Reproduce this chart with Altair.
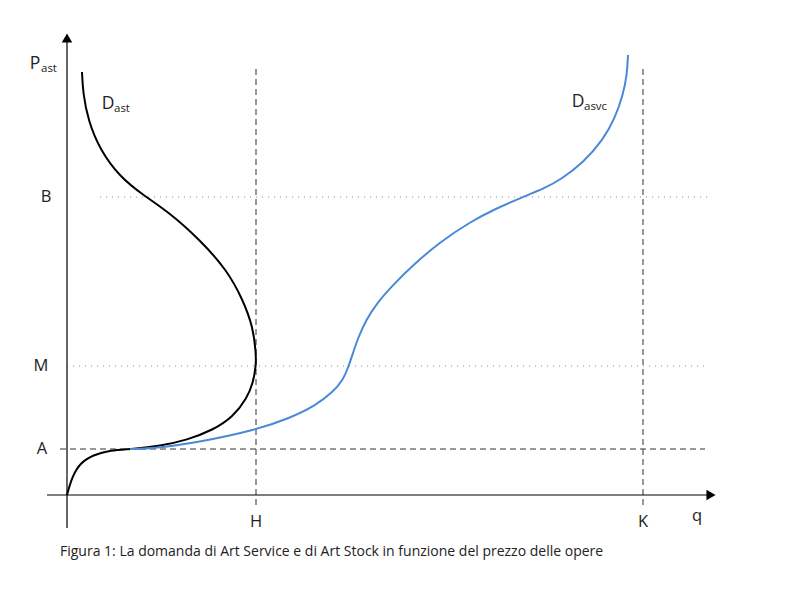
import altair as alt
import pandas as pd

# Curve points (q, P) in schematic units, origin at axes intersection
dast_q = [15, 16, 21, 33, 53, 76, 103, 133, 160, 176, 186, 189, 189, 186, 180, 166, 146, 120, 93, 66, 43, 26, 13, 5, 0]
dast_p = [423, 402, 375, 345, 318, 300, 282, 255, 225, 195, 168, 142, 129, 112, 97, 78, 65, 55, 49, 46, 45, 40, 32, 18, 0]

dasvc_q = [63, 83, 133, 189, 223, 248, 266, 276, 281, 286, 291, 299, 310, 326, 346, 373, 403, 430, 456, 478, 493, 516, 536, 548, 556, 560, 561]
dasvc_p = [46, 46, 53, 65, 77, 89, 103, 115, 127, 142, 157, 175, 192, 210, 230, 253, 273, 287, 298, 307, 315, 332, 355, 377, 400, 420, 440]

# Reference levels
level_names = ["A", "M", "B"]
level_values = [46, 129, 298]
q_names = ["H", "K"]
q_values = [189, 576]

caption = "Figura 1: La domanda di Art Service e di Art Stock in funzione del prezzo delle opere"

FONT = "Open Sans"
X = alt.Scale(domain=[-67, 733])
Y = alt.Scale(domain=[-105, 495])

def xe(f):
    return alt.X(f, type="quantitative", scale=X, axis=None)

def ye(f):
    return alt.Y(f, type="quantitative", scale=Y, axis=None)

df_dast = pd.DataFrame({"q": dast_q, "p": dast_p, "i": range(len(dast_q))})
df_dasvc = pd.DataFrame({"q": dasvc_q, "p": dasvc_p, "i": range(len(dasvc_q))})

dast = alt.Chart(df_dast).mark_line(color="black", strokeWidth=2, interpolate="basis").encode(
    x=xe("q"), y=ye("p"), order="i:Q")
dasvc = alt.Chart(df_dasvc).mark_line(color="#4a89d8", strokeWidth=2, interpolate="basis").encode(
    x=xe("q"), y=ye("p"), order="i:Q")

# Axes
axes_df = pd.DataFrame({"x1": [0, -20], "x2": [0, 640], "y1": [-33, 0], "y2": [455, 0]})
axes = alt.Chart(axes_df).mark_rule(color="black", strokeWidth=1.2).encode(
    x=xe("x1"), x2="x2", y=ye("y1"), y2="y2")
arrow_up = alt.Chart(pd.DataFrame({"x": [0], "y": [457]})).mark_point(
    shape="triangle-up", filled=True, color="black", size=110, opacity=1).encode(x=xe("x"), y=ye("y"))
arrow_right = alt.Chart(pd.DataFrame({"x": [644], "y": [0]})).mark_point(
    shape="triangle-right", filled=True, color="black", size=110, opacity=1).encode(x=xe("x"), y=ye("y"))

# Dashed / dotted guides
dashed_h = alt.Chart(pd.DataFrame({"x1": [-7], "x2": [638], "y": [level_values[0]]})).mark_rule(
    color="#333333", strokeWidth=1, strokeDash=[6, 4]).encode(x=xe("x1"), x2="x2", y=ye("y"))
dotted_df = pd.DataFrame({"x1": [0, 33], "x2": [638, 643], "y": level_values[1:]})
dotted = alt.Chart(dotted_df).mark_rule(color="#8a8a8a", strokeWidth=1, strokeDash=[1, 5]).encode(
    x=xe("x1"), x2="x2", y=ye("y"))
dashed_v = alt.Chart(pd.DataFrame({"x": q_values, "y1": [-10, -10], "y2": [427, 427]})).mark_rule(
    color="#333333", strokeWidth=1, strokeDash=[6, 4]).encode(x=xe("x"), y=ye("y1"), y2="y2")

# Labels
lvl_df = pd.DataFrame({"t": level_names, "x": [-25, -26, -21], "y": level_values})
lvl_text = alt.Chart(lvl_df).mark_text(font=FONT, fontSize=16.5, color="#222", align="center", baseline="middle").encode(
    x=xe("x"), y=ye("y"), text="t")
q_df = pd.DataFrame({"t": q_names + ["q"], "x": q_values + [630], "y": [-27, -27, -21]})
q_text = alt.Chart(q_df).mark_text(font=FONT, fontSize=16.5, color="#222", align="center", baseline="middle").encode(
    x=xe("x"), y=ye("y"), text="t")

main_df = pd.DataFrame({"t": ["P", "D", "D"], "x": [-32, 41, 511], "y": [431, 391, 393]})
main_text = alt.Chart(main_df).mark_text(font=FONT, fontSize=17.5, color="#222", align="center", baseline="middle").encode(
    x=xe("x"), y=ye("y"), text="t")
sub_df = pd.DataFrame({"t": ["ast", "ast", "asvc"], "x": [-26, 47, 517], "y": [426, 386, 388]})
sub_text = alt.Chart(sub_df).mark_text(font=FONT, fontSize=11.5, color="#222", align="left", baseline="middle").encode(
    x=xe("x"), y=ye("y"), text="t")

cap = alt.Chart(pd.DataFrame({"t": [caption], "x": [-7], "y": [-57]})).mark_text(
    font=FONT, fontSize=14, color="#222", align="left", baseline="middle").encode(x=xe("x"), y=ye("y"), text="t")

chart = alt.layer(
    dotted, dashed_h, dashed_v, axes, arrow_up, arrow_right, dast, dasvc,
    lvl_text, q_text, main_text, sub_text, cap
).properties(width=800, height=600, padding=0, autosize=alt.AutoSizeParams(type="none")).configure_view(stroke=None)

chart.save("out.html", embed_options={"renderer": "svg", "actions": False})
